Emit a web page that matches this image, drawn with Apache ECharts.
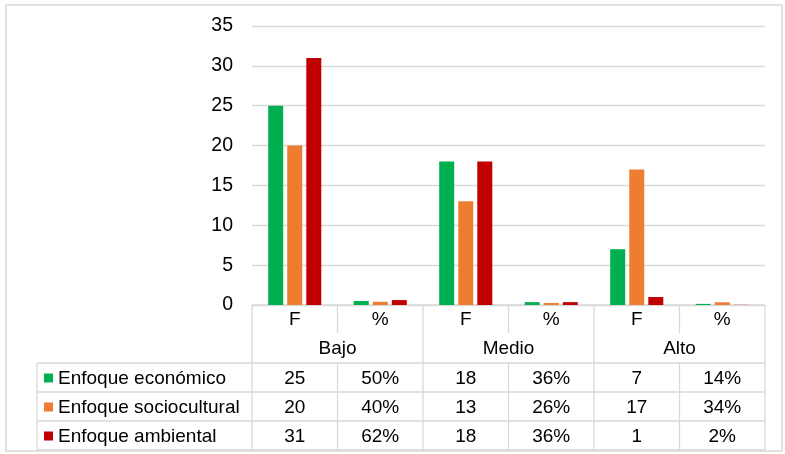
<!DOCTYPE html>
<html>
<head>
<meta charset="utf-8">
<script src="https://cdn.jsdelivr.net/npm/echarts@6/dist/echarts.min.js"></script>
<style>
html,body{margin:0;padding:0;background:#fff;}
#main{width:785px;height:454px;}
</style>
</head>
<body>
<div id="main"></div>
<script>
// ---- data ----
const groups = ['Bajo', 'Medio', 'Alto'];
const subLabels = ['F', '%'];
const categories = ['Bajo F', 'Bajo %', 'Medio F', 'Medio %', 'Alto F', 'Alto %'];
const seriesNames = ['Enfoque económico', 'Enfoque sociocultural', 'Enfoque ambiental'];
const economico = [25, 0.50, 18, 0.36, 7, 0.14];
const sociocultural = [20, 0.40, 13, 0.26, 17, 0.34];
const ambiental = [31, 0.62, 18, 0.36, 1, 0.02];
const yTicks = [0, 5, 10, 15, 20, 25, 30, 35];
const colors = ['#00B050', '#ED7D31', '#C00000'];

const seriesData = [economico, sociocultural, ambiental];
const FONT = '"Liberation Sans", Arial, sans-serif';
const lineColor = '#d9d9d9';
const textColor = '#000';

const chart = echarts.init(document.getElementById('main'), null, {renderer: 'canvas'});

const option = {
  backgroundColor: '#fff',
  animation: false,
  grid: {left: 252, right: 20, top: 26, bottom: 149, containLabel: false},
  xAxis: {
    type: 'category',
    data: categories,
    axisLabel: {show: false},
    axisTick: {show: false},
    axisLine: {show: false},
    splitLine: {show: false}
  },
  yAxis: {
    type: 'value',
    min: yTicks[0],
    max: yTicks[yTicks.length - 1],
    interval: 5,
    axisLine: {show: false},
    axisTick: {show: false},
    axisLabel: {fontSize: 19.5, fontFamily: FONT, color: textColor, margin: 19},
    splitLine: {lineStyle: {color: lineColor, width: 1.3}}
  },
  series: seriesNames.map((name, i) => ({
    name: name,
    type: 'bar',
    data: seriesData[i],
    barWidth: 15,
    barGap: '27%',
    itemStyle: {color: colors[i]}
  }))
};
chart.setOption(option);

// ---- data table built from the arrays ----
function buildTable() {
  const cx = categories.map((c, i) => chart.convertToPixel({xAxisIndex: 0}, i));
  const cw = cx[1] - cx[0];
  const bounds = cx.map(x => x - cw / 2);
  bounds.push(cx[cx.length - 1] + cw / 2);
  const yTop = chart.convertToPixel({yAxisIndex: 0}, 0);
  const rowSub = yTop + 28;      // end of F/% row
  const rowGroup = yTop + 58;    // end of group row
  const rowH = 29;
  const legendLeft = 37;
  const tableRight = bounds[bounds.length - 1];
  const els = [];
  const ls = {stroke: lineColor, lineWidth: 1.3};
  const hline = (x1, x2, y) => els.push({type: 'line', shape: {x1, y1: y, x2, y2: y}, style: ls, silent: true});
  const vline = (x, y1, y2) => els.push({type: 'line', shape: {x1: x, y1, x2: x, y2}, style: ls, silent: true});
  const txt = (x, y, s, align) => els.push({type: 'text', x, y, style: {text: s, fill: textColor, font: '19px ' + FONT, textAlign: align || 'center', textVerticalAlign: 'middle'}, silent: true});

  // outer border
  els.push({type: 'rect', shape: {x: 6, y: 5, width: 776, height: 446}, style: {fill: 'none', stroke: lineColor, lineWidth: 1.6}, silent: true});

  const bottom = rowGroup + rowH * seriesNames.length;
  hline(bounds[0], tableRight, yTop);
  for (let r = 0; r <= seriesNames.length; r++) hline(legendLeft, tableRight, rowGroup + r * rowH);
  vline(legendLeft, rowGroup, bottom);
  bounds.forEach((b, i) => {
    if (i % 2 === 0) vline(b, yTop, bottom);
    else { vline(b, yTop, rowSub); vline(b, rowGroup, bottom); }
  });
  categories.forEach((c, i) => txt(cx[i], (yTop + rowSub) / 2 + 1, subLabels[i % 2]));
  groups.forEach((g, gi) => txt((cx[gi * 2] + cx[gi * 2 + 1]) / 2, (rowSub + rowGroup) / 2 + 1, g));
  seriesNames.forEach((name, r) => {
    const yc = rowGroup + r * rowH + rowH / 2 + 1;
    els.push({type: 'rect', shape: {x: 44, y: yc - 5, width: 9, height: 9}, style: {fill: colors[r]}, silent: true});
    txt(58, yc, name, 'left');
    seriesData[r].forEach((v, i) => {
      const s = (i % 2 === 0) ? String(v) : Math.round(v * 100) + '%';
      txt(cx[i], yc, s);
    });
  });
  chart.setOption({graphic: {elements: els}});
}
buildTable();
</script>
</body>
</html>
